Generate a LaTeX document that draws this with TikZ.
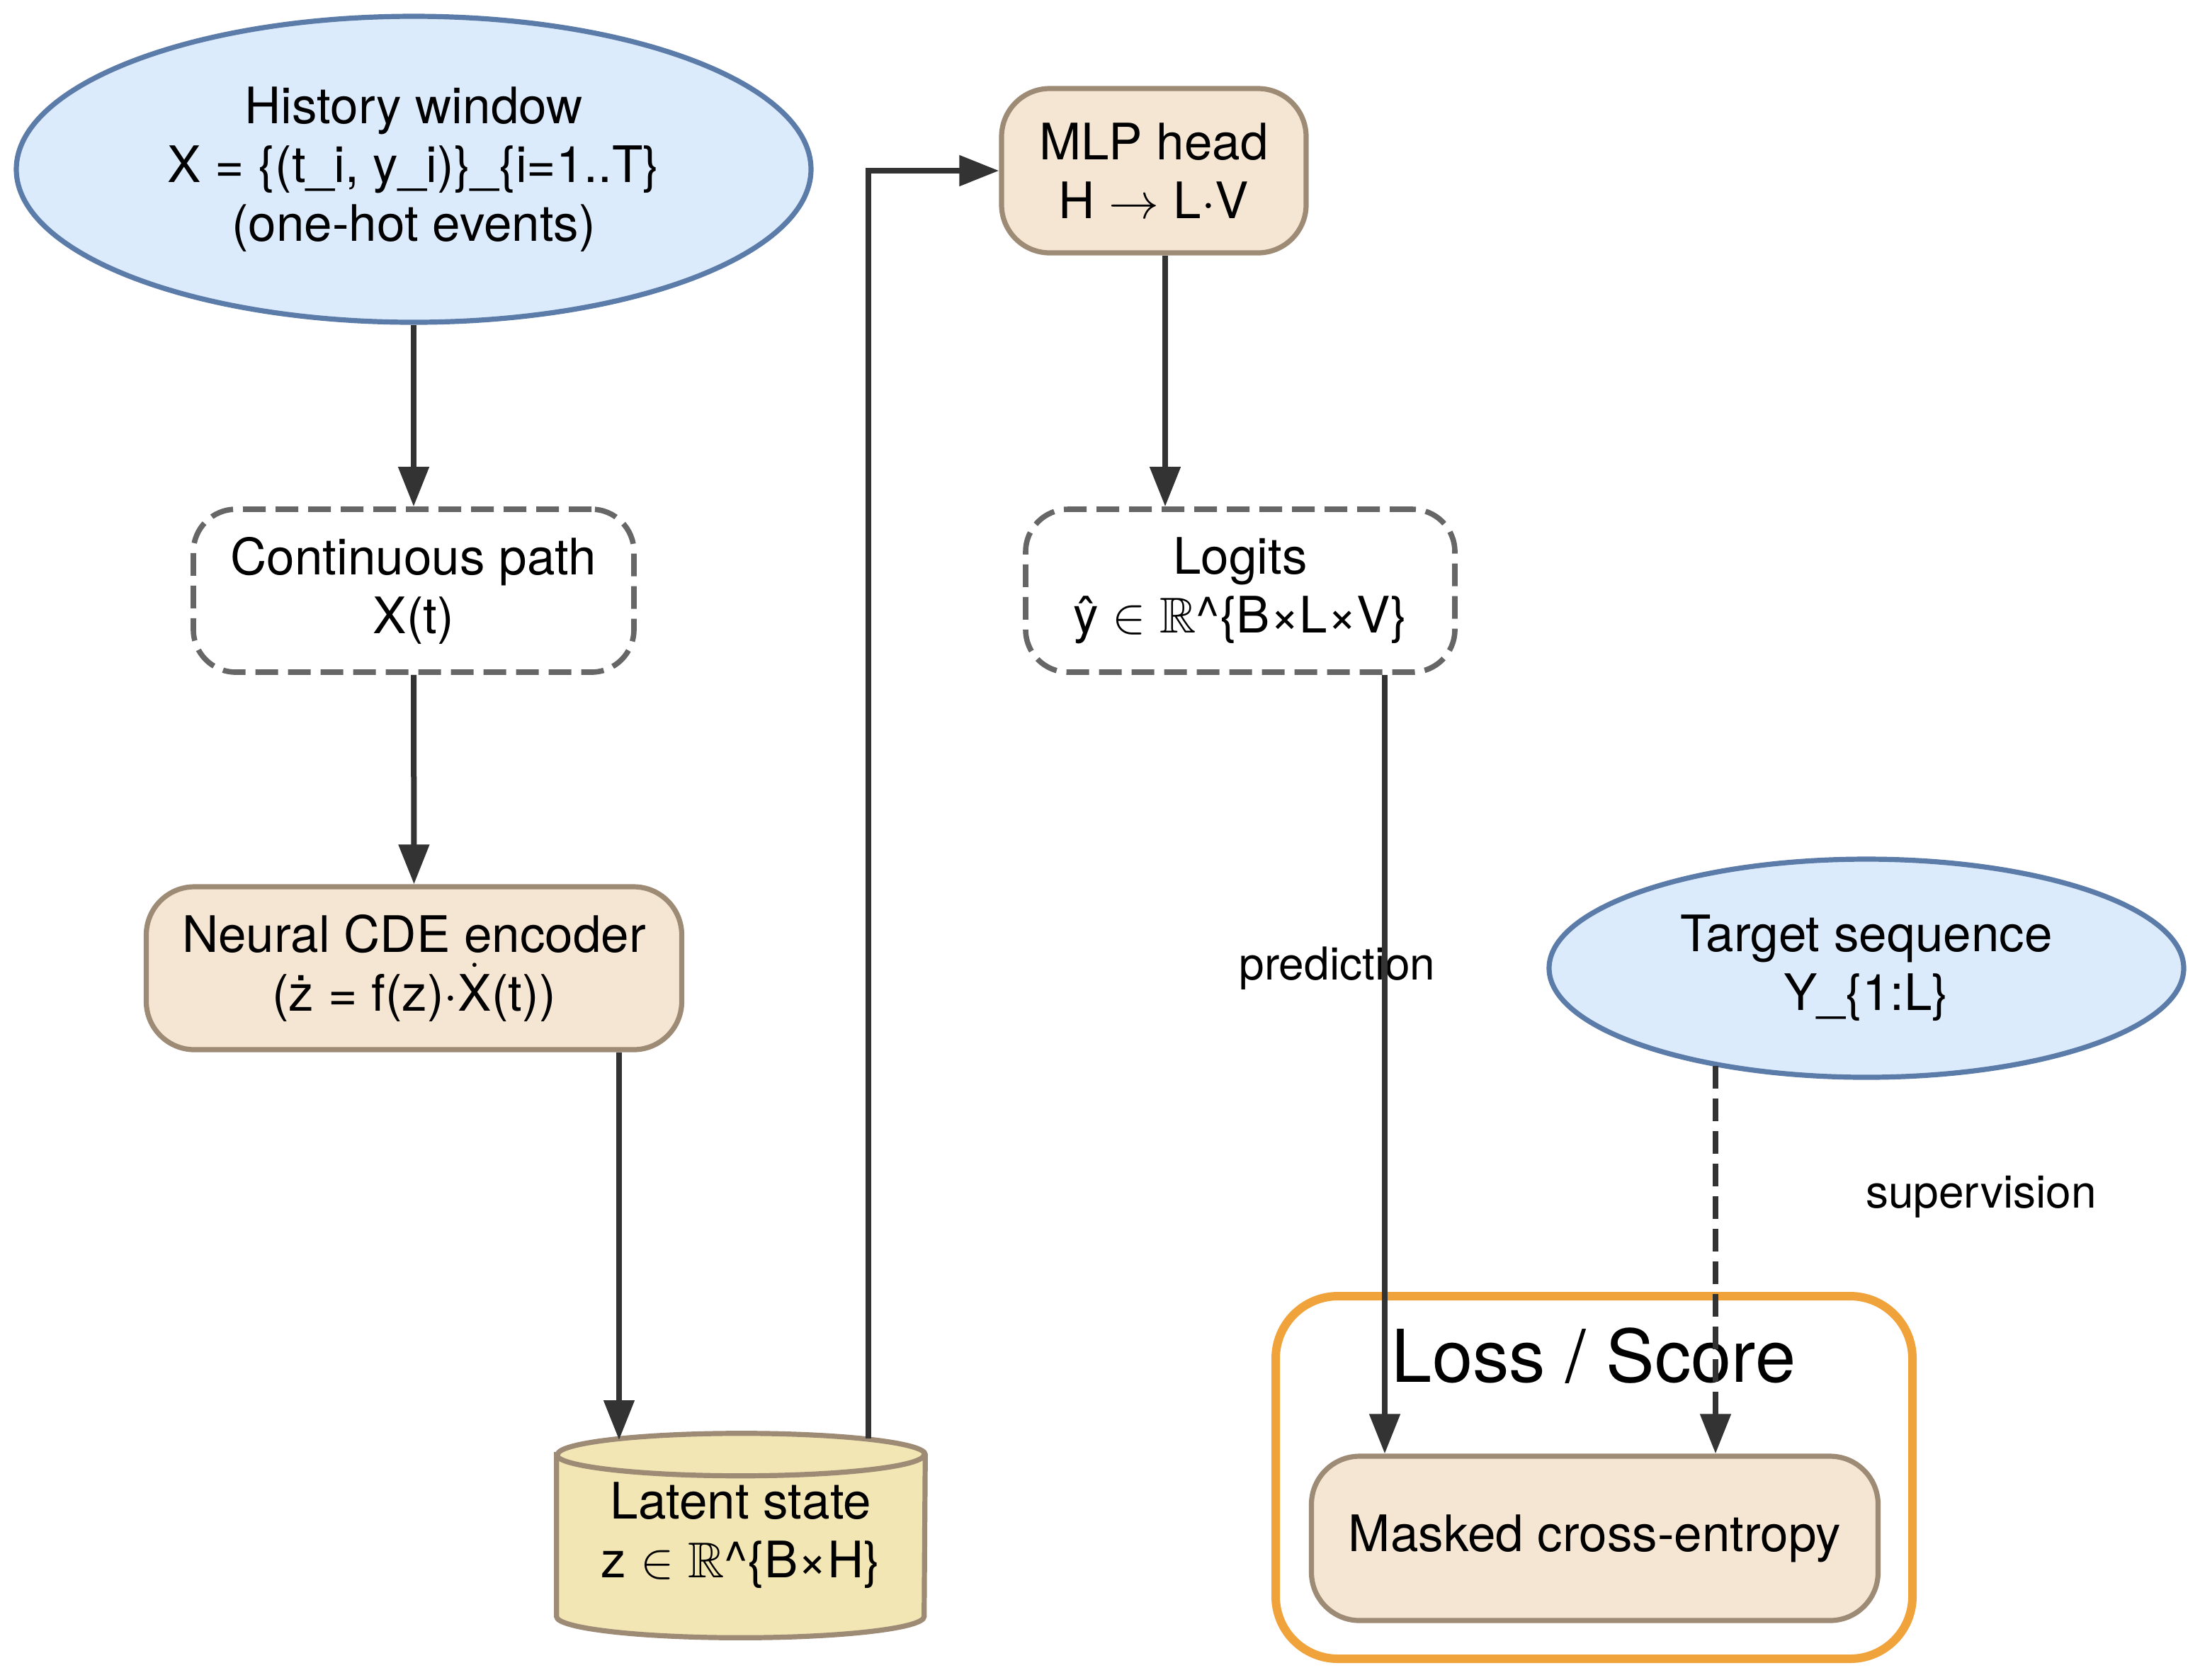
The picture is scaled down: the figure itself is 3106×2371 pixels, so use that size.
\RequirePackage{fix-cm}
\documentclass[tikz,border=0pt]{standalone}
\usepackage{fontspec}
\setmainfont{TeX Gyre Heros}
\usepackage{amssymb}
\usetikzlibrary{arrows.meta,shapes.geometric,calc}
\definecolor{ellfill}{HTML}{DCEBFC}
\definecolor{elldraw}{HTML}{5B7BA8}
\definecolor{procfill}{HTML}{F5E6D3}
\definecolor{procdraw}{HTML}{9E8B76}
\definecolor{cylfill}{HTML}{F2E6B4}
\definecolor{dashdraw}{HTML}{666666}
\definecolor{arrcol}{HTML}{333333}
\definecolor{clustcol}{HTML}{F0A23B}
\begin{document}
\begin{tikzpicture}[x=0.25pt,y=-0.25pt,
  txt/.style={font=\fontsize{17.75}{20.75}\selectfont, align=center, text=black},
  ellnode/.style={txt, ellipse, draw=elldraw, fill=ellfill, line width=1.8pt, inner sep=0pt},
  procnode/.style={txt, rectangle, rounded corners=17pt, draw=procdraw, fill=procfill, line width=1.8pt, inner sep=0pt},
  dashnode/.style={txt, rectangle, rounded corners=15pt, draw=dashdraw, fill=white, line width=1.9pt, dash pattern=on 8pt off 3.5pt, inner sep=0pt},
  arr/.style={draw=arrcol, line width=2pt, -{Triangle[length=14pt,width=10.5pt]}},
  dasharr/.style={arr, dash pattern=on 8pt off 3.5pt},
  elabel/.style={font=\fontsize{16}{19}\selectfont, text=black},
  cluster/.style={draw=clustcol, line width=3pt, rounded corners=22pt, inner sep=0pt}]
\useasboundingbox (0,0) rectangle (3106,2371);

% cluster
\node[cluster, minimum width=224.75pt, minimum height=128pt] (cl) at (2250.5,2086) {};
\node[font=\fontsize{25.7}{30}\selectfont] (cltitle) at (2250,1914) {Loss / Score};

% nodes
\node[ellnode, minimum width=280.5pt, minimum height=108pt] (hist) at (584,239)
  {History window\\X = \{(t\_i, y\_i)\}\_\{i=1..T\}\\(one-hot events)};
\node[dashnode, minimum width=155.5pt, minimum height=57.5pt] (cont) at (584,834)
  {Continuous path\\X(t)};
\node[procnode, minimum width=189pt, minimum height=57.5pt] (cde) at (584.5,1367)
  {Neural CDE encoder\\(ż = f(z)·\ensuremath{\dot{\mbox{X}}}(t))};
\node[txt, rectangle, inner sep=0pt, minimum width=129.75pt, minimum height=71.75pt] (lat) at (1046,2168) {};
\path[fill=cylfill, draw=procdraw, line width=1.8pt]
  ([yshift=-7.5pt]lat.north west) -- ([yshift=7.5pt]lat.south west)
  arc[start angle=180, end angle=360, x radius=64.875pt, y radius=7.5pt]
  -- ([yshift=-7.5pt]lat.north east)
  arc[start angle=0, end angle=180, x radius=64.875pt, y radius=7.5pt] -- cycle;
\draw[draw=procdraw, line width=1.8pt] ([yshift=-7.5pt]lat.north west)
  arc[start angle=180, end angle=360, x radius=64.875pt, y radius=7.5pt];
\node[txt] (lattext) at (lat.center) {Latent state\\z $\in$ $\mathbb{R}$\textasciicircum\{B×H\}};
\node[procnode, minimum width=107.5pt, minimum height=58pt] (mlp) at (1629,241)
  {MLP head\\H $\rightarrow$ L·V};
\node[dashnode, minimum width=151.5pt, minimum height=57.5pt] (logits) at (1751,834)
  {Logits\\ŷ $\in$ $\mathbb{R}$\textasciicircum\{B×L×V\}};
\node[ellnode, minimum width=224pt, minimum height=77pt] (target) at (2635,1367)
  {Target sequence\\Y\_\{1:L\}};
\node[procnode, minimum width=200pt, minimum height=58pt] (mce) at (2251.5,2172)
  {Masked cross-entropy};

% edge labels
\node[elabel] (plab) at (1888,1367) {prediction};
\node[elabel] (slab) at (2797,1690) {supervision};

% connectors
\coordinate (ltop) at (874,2033);
\coordinate (lout) at (1226,2031);
\coordinate (mx) at (1645,0);
\coordinate (px) at (1955,0);
\coordinate (tstart) at (2422,1505);
\draw[arr] (hist.south) -- (cont.north);
\draw[arr] (cont.south) -- (cde.north);
\draw[arr] (cde.south -| ltop) -- (ltop);
\draw[arr] (lout) |- (mlp.west);
\draw[arr] (mlp.south -| mx) -- (logits.north -| mx);
\draw[arr] (logits.south -| px) -- (mce.north -| px);
\draw[dasharr] (tstart) -- (mce.north -| tstart);
\end{tikzpicture}
\end{document}
